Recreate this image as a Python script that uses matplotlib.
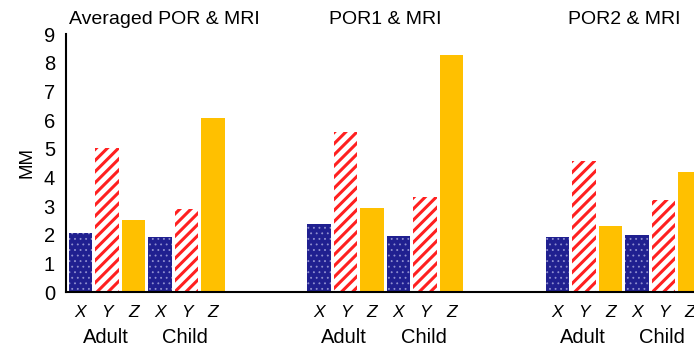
import matplotlib
matplotlib.use("Agg")
import matplotlib.pyplot as plt
import numpy as np

plt.rcParams['font.family'] = ['Liberation Sans', 'DejaVu Sans']

panels = ["Averaged POR & MRI", "POR1 & MRI", "POR2 & MRI"]
groups = ["Adult", "Child"]
series = ["X", "Y", "Z"]
# values[panel][group] = [X, Y, Z]
avg_vals = [[2.05, 5.02, 2.51], [1.92, 2.90, 6.07]]
por1_vals = [[2.37, 5.58, 2.93], [1.95, 3.31, 8.27]]
por2_vals = [[1.92, 4.57, 2.30], [1.99, 3.21, 4.19]]
all_vals = [avg_vals, por1_vals, por2_vals]
yticks = list(range(0, 10))

fig = plt.figure(figsize=(6.94, 3.51), dpi=100)
ax = fig.add_axes([66/694, 59/351, 1 - 66/694, (292-34)/351])

navy = '#202090'
red = '#FF2020'
gold = '#FFC000'
width = 0.9

for p, pv in enumerate(all_vals):
    for g, gv in enumerate(pv):
        base = p * 9 + g * 3
        for s, v in enumerate(gv):
            x = base + s
            if s == 0:
                b = ax.bar(x, v, width, color=navy, edgecolor='#9090D0', hatch='...', linewidth=0)
                hl = 0.6
            elif s == 1:
                b = ax.bar(x, v, width, color='white', edgecolor=red, hatch='///', linewidth=0)
                hl = 2.2
            else:
                b = ax.bar(x, v, width, color=gold, linewidth=0)
                hl = None
            if hl is not None:
                for r in b:
                    if hasattr(r, 'set_hatch_linewidth'):
                        r.set_hatch_linewidth(hl)
            ax.text(x, -0.7, series[s], ha='center', va='center', fontsize=12.5, style='italic')
        ax.text(base + 0.95, -1.6, groups[g], ha='center', va='center', fontsize=14.5)

title_pos = [3.15, 11.5, 20.5]
for p, t in enumerate(panels):
    ax.text(title_pos[p], 9.22, t, ha='center', va='bottom', fontsize=14)

ax.set_xlim(-0.55, 23.15)
ax.set_ylim(0, 9)
ax.set_yticks(yticks)
ax.set_yticklabels([str(t) for t in yticks], fontsize=14.5)
ax.tick_params(axis='y', length=0, pad=8)
ax.set_xticks([])
ax.spines['top'].set_visible(False)
ax.spines['right'].set_visible(False)
ax.spines['left'].set_linewidth(1.5)
ax.spines['bottom'].set_linewidth(1.5)
ax.set_ylabel("MM", fontsize=13.5, labelpad=6)

fig.savefig("out.png", dpi=100)
